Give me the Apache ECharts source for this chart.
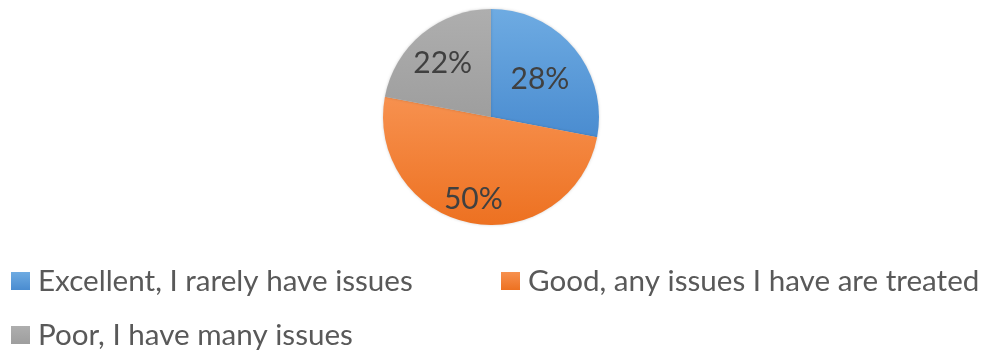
<!DOCTYPE html>
<html>
<head>
<meta charset="utf-8">
<script src="https://cdn.jsdelivr.net/npm/echarts@6/dist/echarts.min.js"></script>
<style>
  html, body { margin: 0; padding: 0; background: #ffffff; }
  #chart { width: 989px; height: 354px; }
</style>
</head>
<body>
<div id="chart"></div>
<script>
// Survey answers and their shares (percent)
const categories = [
  'Excellent, I rarely have issues',
  'Good, any issues I have are treated',
  'Poor, I have many issues'
];
const values = [28, 50, 22];

// Slice fills: lighter at the top, deeper at the bottom
const topColors = ['#6EABE2', '#F7914F', '#AEAEAE'];
const bottomColors = ['#4A8CD0', '#ED7121', '#9E9E9E'];
// Nudges for the percentage labels inside each slice
const labelOffsets = [[5, -1], [-7, 26], [-12, -10]];

const FONT = 'Lato, "Open Sans", sans-serif';

function grad(i) {
  return new echarts.graphic.LinearGradient(0, 0, 0, 1, [
    { offset: 0, color: topColors[i] },
    { offset: 1, color: bottomColors[i] }
  ]);
}

const chart = echarts.init(document.getElementById('chart'), null, { renderer: 'canvas' });

const legendBase = {
  icon: 'rect',
  itemWidth: 19,
  itemHeight: 18,
  itemGap: 8,
  padding: 0,
  textStyle: { color: '#595959', fontSize: 29.6, fontFamily: FONT, padding: [0, 0, 0, 3] },
  selectedMode: false
};

chart.setOption({
  animation: false,
  backgroundColor: '#ffffff',
  legend: [
    Object.assign({}, legendBase, { data: [categories[0]], left: 11, top: 266 }),
    Object.assign({}, legendBase, { data: [categories[1]], left: 501, top: 266 }),
    Object.assign({}, legendBase, { data: [categories[2]], left: 11, top: 320 })
  ],
  series: [{
    type: 'pie',
    center: [491, 117],
    radius: 108,
    startAngle: 90,
    clockwise: true,
    avoidLabelOverlap: false,
    itemStyle: {
      borderWidth: 0,
      shadowBlur: 3,
      shadowColor: 'rgba(0,0,0,0.18)'
    },
    label: {
      show: true,
      position: 'inside',
      formatter: '{c}%',
      color: '#404040',
      fontSize: 30,
      fontFamily: FONT
    },
    labelLine: { show: false },
    emphasis: { disabled: true },
    data: categories.map((name, i) => ({
      name: name,
      value: values[i],
      itemStyle: { color: grad(i) },
      label: { offset: labelOffsets[i] }
    }))
  }]
});
</script>
</body>
</html>
